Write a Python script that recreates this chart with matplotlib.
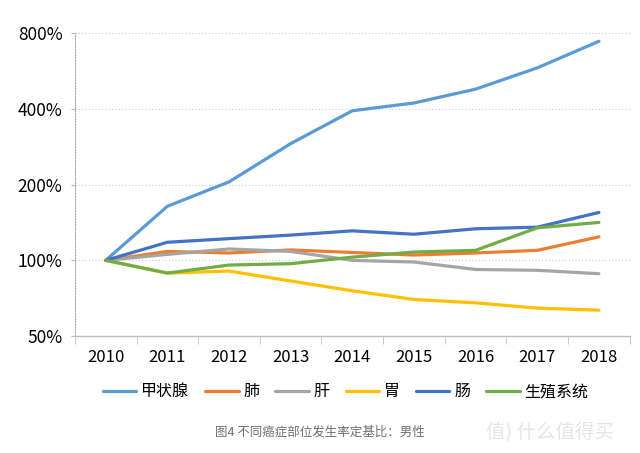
import matplotlib
matplotlib.use('Agg')
import matplotlib.pyplot as plt

plt.rcParams['font.family'] = ['Noto Sans CJK SC', 'DejaVu Sans']

years = ['2010', '2011', '2012', '2013', '2014', '2015', '2016', '2017', '2018']
names = ['甲状腺', '肺', '肝', '胃', '肠', '生殖系统']
colors = ['#5B9BD5', '#ED7D31', '#A5A5A5', '#FFC000', '#4472C4', '#70AD47']

# values relative to 2010 (1.0 = 100%)
thyroid = [1.0, 1.64, 2.05, 2.91, 3.93, 4.22, 4.79, 5.82, 7.42]
lung = [1.0, 1.085, 1.07, 1.10, 1.075, 1.05, 1.07, 1.096, 1.24]
liver = [1.0, 1.056, 1.11, 1.085, 1.0, 0.985, 0.92, 0.913, 0.885]
stomach = [1.0, 0.89, 0.907, 0.828, 0.757, 0.699, 0.678, 0.646, 0.634]
intestine = [1.0, 1.18, 1.22, 1.26, 1.31, 1.27, 1.335, 1.355, 1.55]
reproductive = [1.0, 0.89, 0.958, 0.97, 1.03, 1.079, 1.096, 1.347, 1.415]
series = [thyroid, lung, liver, stomach, intestine, reproductive]

yticks = [0.5, 1, 2, 4, 8]
ylabels = ['50%', '100%', '200%', '400%', '800%']

fig = plt.figure(figsize=(6.4, 4.53), dpi=100)
ax = fig.add_axes([0.117, 0.258, 0.867, 0.669])

x = list(range(len(years)))
for vals, name, c in zip(series, names, colors):
	ax.plot(x, vals, color=c, lw=2.3, label=name, solid_capstyle='round')

ax.set_yscale('log', base=2)
ax.set_ylim(0.5, 8)
ax.set_yticks(yticks)
ax.set_yticklabels(ylabels)
ax.yaxis.set_minor_locator(matplotlib.ticker.NullLocator())
ax.tick_params(axis='y', length=3, color='#bbbbbb', labelsize=12.5, pad=6)

ax.set_xlim(-0.5, len(years) - 0.5)
ax.set_xticks(x)
ax.set_xticklabels(years)
ax.set_xticks([i - 0.5 for i in range(len(years) + 1)], minor=True)
ax.tick_params(axis='x', which='major', length=0, labelsize=12, pad=9)
ax.tick_params(axis='x', which='minor', length=6, color='#bfbfbf')

for v in yticks[1:]:
	ax.axhline(v, color='#d0d0d0', lw=0.8, ls=(0, (1, 2)), zorder=0)

ax.spines['top'].set_visible(False)
ax.spines['right'].set_visible(False)
ax.spines['left'].set_color('#aaaaaa')
ax.spines['left'].set_linestyle((0, (1, 1.5)))
ax.spines['left'].set_linewidth(0.8)
ax.spines['bottom'].set_color('#bfbfbf')
ax.spines['bottom'].set_linewidth(1.0)

fig.legend(loc='center', bbox_to_anchor=(0.54, 0.135), ncol=6, frameon=False,
	fontsize=11.5, handlelength=2.1, handletextpad=0.3, columnspacing=1.0,
	borderpad=0.2)

fig.text(0.5, 0.046, '图4 不同癌症部位发生率定基比：男性', ha='center', va='center',
	fontsize=9, color='#707070')
fig.text(0.86, 0.046, '值) 什么值得买', ha='center', va='center',
	fontsize=14, color='#e6e6e6')

fig.savefig('out.png', dpi=100)
